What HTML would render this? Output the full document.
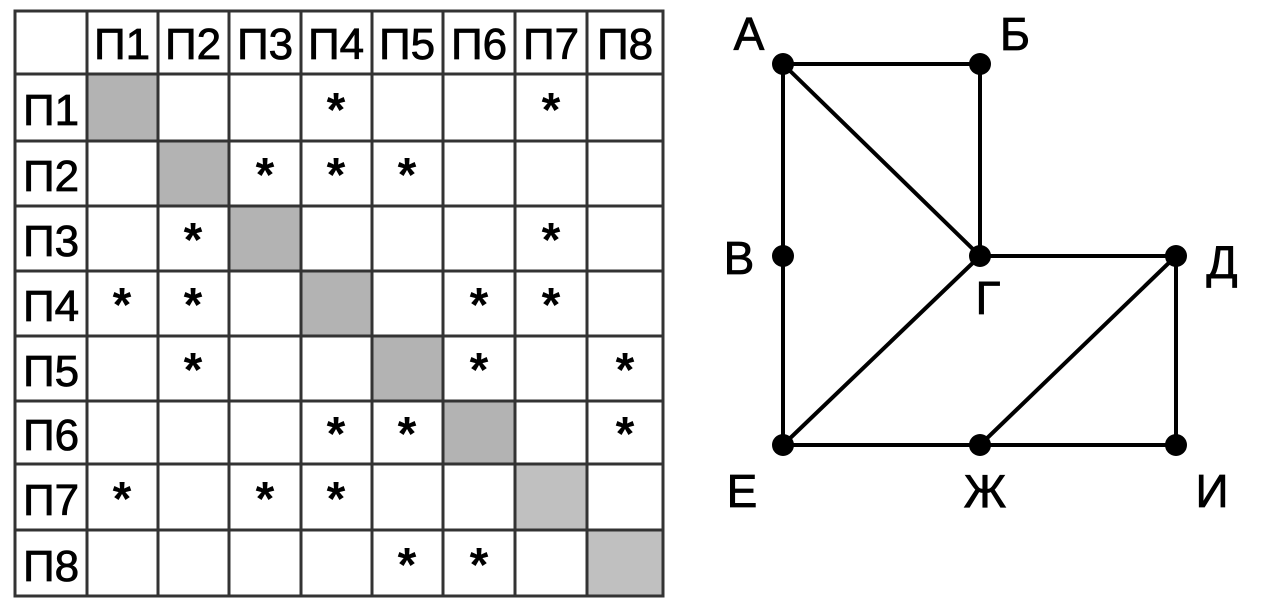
<!DOCTYPE html>
<html><head><meta charset="utf-8"><style>
html,body{margin:0;padding:0;background:#fff;width:1274px;height:602px;overflow:hidden}
svg{display:block}
text{font-family:"Liberation Sans","DejaVu Sans",sans-serif;fill:#000}
</style></head><body>
<svg width="1274" height="602" viewBox="0 0 1274 602">
<g fill="#b3b3b3">
<rect x="87" y="74" width="71" height="67"/>
<rect x="158" y="141" width="71" height="65"/>
<rect x="229" y="206" width="72" height="65"/>
<rect x="301" y="271" width="71" height="65"/>
<rect x="372" y="336" width="71" height="65"/>
<rect x="443" y="401" width="72" height="63"/>
<rect x="515" y="464" width="72" height="66" fill="#c0c0c0"/>
<rect x="587" y="530" width="76" height="66" fill="#c0c0c0"/>
</g>
<g stroke="#333" stroke-width="3" fill="none">
<rect x="15" y="11" width="648" height="585"/>
<line x1="87" y1="11" x2="87" y2="596"/><line x1="158" y1="11" x2="158" y2="596"/>
<line x1="229" y1="11" x2="229" y2="596"/><line x1="301" y1="11" x2="301" y2="596"/>
<line x1="372" y1="11" x2="372" y2="596"/><line x1="443" y1="11" x2="443" y2="596"/>
<line x1="515" y1="11" x2="515" y2="596"/><line x1="587" y1="11" x2="587" y2="596"/>
<line x1="15" y1="74" x2="663" y2="74"/><line x1="15" y1="141" x2="663" y2="141"/>
<line x1="15" y1="206" x2="663" y2="206"/><line x1="15" y1="271" x2="663" y2="271"/>
<line x1="15" y1="336" x2="663" y2="336"/><line x1="15" y1="401" x2="663" y2="401"/>
<line x1="15" y1="464" x2="663" y2="464"/><line x1="15" y1="530" x2="663" y2="530"/>
</g>
<g font-size="44" text-anchor="middle" stroke="#000" stroke-width="0.8">
<text x="122" y="59">П1</text><text x="193" y="59">П2</text><text x="265" y="59">П3</text><text x="336" y="59">П4</text>
<text x="407" y="59">П5</text><text x="479" y="59">П6</text><text x="551" y="59">П7</text><text x="625" y="59">П8</text>
<text x="51" y="125">П1</text><text x="51" y="191">П2</text><text x="51" y="256">П3</text><text x="51" y="321">П4</text>
<text x="51" y="386">П5</text><text x="51" y="450">П6</text><text x="51" y="515">П7</text><text x="51" y="581">П8</text>
</g>
<g font-size="48" font-weight="bold" text-anchor="middle">
<text x="336" y="126">*</text><text x="551" y="126">*</text>
<text x="265" y="191">*</text><text x="336" y="191">*</text><text x="407" y="191">*</text>
<text x="193" y="256">*</text><text x="551" y="256">*</text>
<text x="122" y="321">*</text><text x="193" y="321">*</text><text x="479" y="321">*</text><text x="551" y="321">*</text>
<text x="193" y="386">*</text><text x="479" y="386">*</text><text x="625" y="386">*</text>
<text x="336" y="450">*</text><text x="407" y="450">*</text><text x="625" y="450">*</text>
<text x="122" y="515">*</text><text x="265" y="515">*</text><text x="336" y="515">*</text>
<text x="407" y="581">*</text><text x="479" y="581">*</text>
</g>
<g stroke="#000" stroke-width="4">
<line x1="783" y1="64" x2="980" y2="64"/><line x1="783" y1="64" x2="980" y2="256"/>
<line x1="980" y1="64" x2="980" y2="256"/><line x1="783" y1="64" x2="783" y2="445"/>
<line x1="980" y1="256" x2="1176" y2="256"/><line x1="980" y1="256" x2="783" y2="445"/>
<line x1="1176" y1="256" x2="980" y2="445"/><line x1="1176" y1="256" x2="1176" y2="445"/>
<line x1="783" y1="445" x2="1176" y2="445"/>
</g>
<g fill="#000">
<circle cx="783" cy="64" r="11"/><circle cx="980" cy="64" r="11"/>
<circle cx="783" cy="256" r="11"/><circle cx="980" cy="256" r="11"/><circle cx="1176" cy="256" r="11"/>
<circle cx="783" cy="445" r="11"/><circle cx="980" cy="445" r="11"/><circle cx="1176" cy="445" r="11"/>
</g>
<g font-size="46" text-anchor="middle" stroke="#000" stroke-width="0.8">
<text x="749" y="50">А</text><text x="1015" y="50">Б</text>
<text x="739" y="274">В</text><text x="988" y="314">Г</text><text x="1222" y="278">Д</text>
<text x="742" y="507">Е</text><text x="985" y="507">Ж</text><text x="1212" y="507">И</text>
</g>
</svg>
</body></html>
